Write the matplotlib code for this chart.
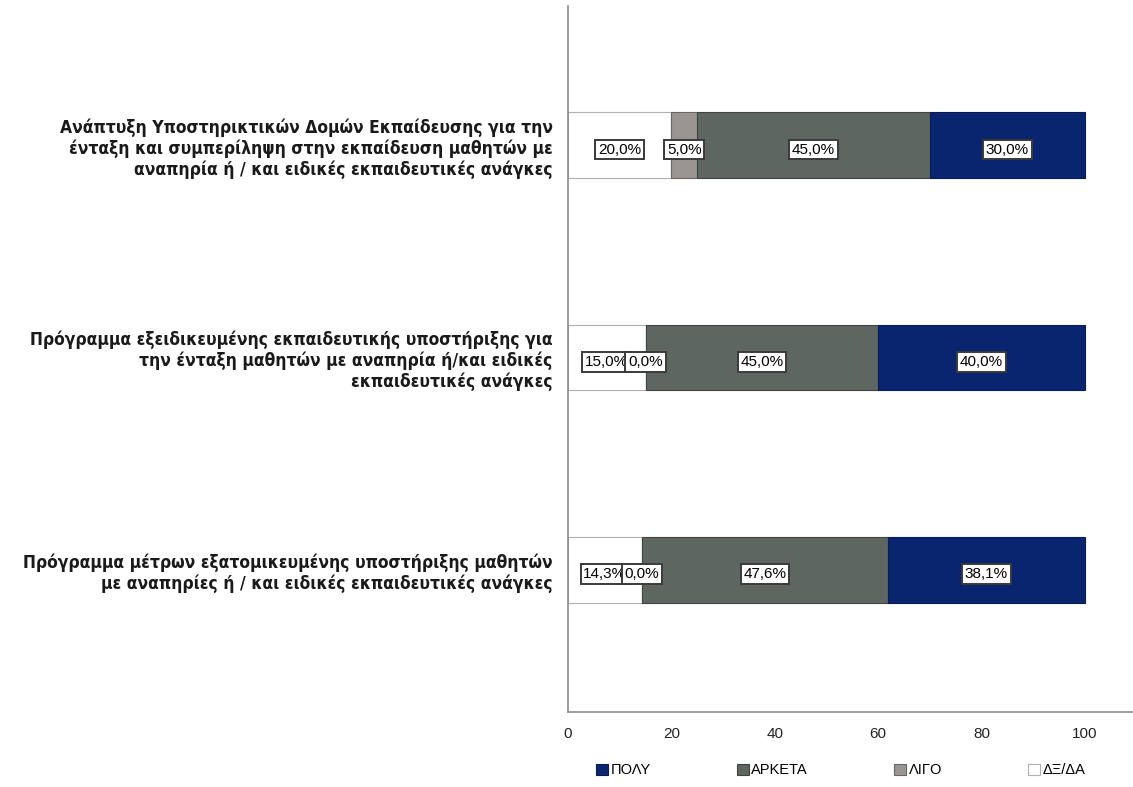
import matplotlib
matplotlib.use("Agg")
import matplotlib.pyplot as plt
import numpy as np

categories = [
    "Ανάπτυξη Υποστηρικτικών Δομών Εκπαίδευσης για την\nένταξη και συμπερίληψη στην εκπαίδευση μαθητών με\nαναπηρία ή / και ειδικές εκπαιδευτικές ανάγκες",
    "Πρόγραμμα εξειδικευμένης εκπαιδευτικής υποστήριξης για\nτην ένταξη μαθητών με αναπηρία ή/και ειδικές\nεκπαιδευτικές ανάγκες",
    "Πρόγραμμα μέτρων εξατομικευμένης υποστήριξης μαθητών\nμε αναπηρίες ή / και ειδικές εκπαιδευτικές ανάγκες",
]
# stacking order left->right
series_names = ["ΔΞ/ΔΑ", "ΛΙΓΟ", "ΑΡΚΕΤΑ", "ΠΟΛΥ"]
dxda = [20.0, 15.0, 14.3]
ligo = [5.0, 0.0, 0.0]
arketa = [45.0, 45.0, 47.6]
poly = [30.0, 40.0, 38.1]
xticks = [0, 20, 40, 60, 80, 100]

series_vals = [dxda, ligo, arketa, poly]
colors = ["#ffffff", "#9a9593", "#5d6660", "#0a2570"]
edges = ["#b0b0b0", "#6a6666", "#3e4440", "#0a1c55"]

fig = plt.figure(figsize=(11.33, 7.87), dpi=100)
ax = fig.add_axes([0.5013, 0.0953, 0.4987, 0.897])

y = np.arange(len(categories))
left = np.zeros(len(categories))
bars = []
for name, vals, c, ec in zip(series_names, series_vals, colors, edges):
    b = ax.barh(y, vals, left=left, height=0.31, color=c, edgecolor=ec,
                linewidth=0.8, label=name, zorder=2)
    bars.append((b, vals, left.copy()))
    left = left + np.array(vals)

z = 5
for b, vals, lft in bars:
    for yi, v, l in zip(y, vals, lft):
        txt = f"{v:.1f}%".replace(".", ",")
        ax.text(l + v / 2, yi + 0.02, txt, ha="center", va="center",
                fontsize=11, family="Liberation Sans", color="#000000",
                zorder=z,
                bbox=dict(boxstyle="square,pad=0.18", fc="white",
                          ec="#3a3a3a", lw=1.4))
        z += 1

ax.set_ylim(2.67, -0.656)
ax.set_xlim(0, 109.3)
ax.set_xticks(xticks)
ax.set_xticklabels([str(t) for t in xticks], family="Liberation Sans",
                   fontsize=11, color="#222222")
ax.set_yticks(y)
ax.set_yticklabels(categories, family="DejaVu Sans", stretch="condensed",
                   weight="bold", fontsize=12.5, color="#1a1a1a",
                   linespacing=1.18)
ax.tick_params(axis="y", length=0, pad=11)
ax.tick_params(axis="x", length=0, pad=11)
for s in ["top", "right"]:
    ax.spines[s].set_visible(False)
for s in ["left", "bottom"]:
    ax.spines[s].set_color("#8c8c8c")
    ax.spines[s].set_linewidth(1.2)

handles = [bars[3][0], bars[2][0], bars[1][0], bars[0][0]]
labels = ["ΠΟΛΥ", "ΑΡΚΕΤΑ", "ΛΙΓΟ", "ΔΞ/ΔΑ"]
leg = fig.legend(handles, labels, loc="center", bbox_to_anchor=(0.742, 0.021),
                 ncol=4, frameon=False, handlelength=0.85, handleheight=0.85,
                 handletextpad=0.15, columnspacing=5.9,
                 prop=dict(family="Liberation Sans", size=10.5))

fig.savefig("out.png", dpi=100, facecolor="white")
